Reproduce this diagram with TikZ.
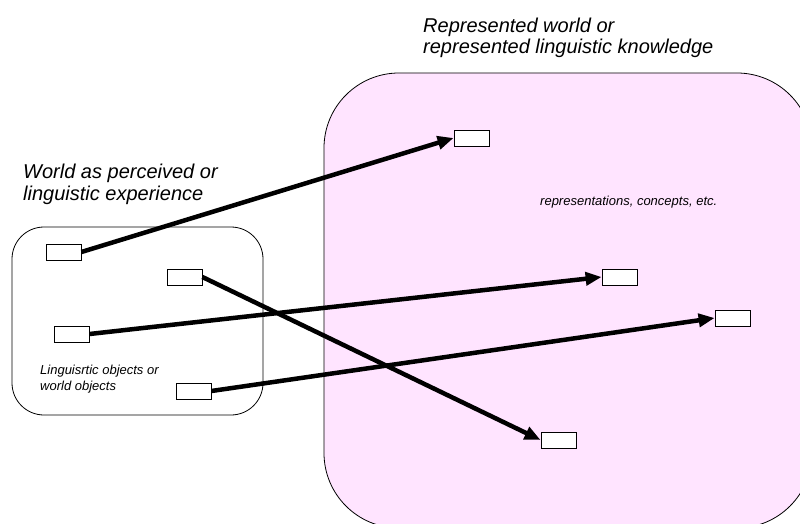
\documentclass[tikz,border=0pt]{standalone}
\usepackage{fontspec}
\setmainfont{Liberation Sans}
\usetikzlibrary{arrows.meta}
\definecolor{pinkfill}{RGB}{255,228,255}
\tikzset{
  objbox/.style={draw=black, fill=white, line width=0.8pt, minimum width=35pt, minimum height=16pt, inner sep=0pt},
  bigarrow/.style={line width=4.5pt, -{Triangle[length=16pt,width=13pt]}},
  bigtext/.style={font=\fontsize{20}{21.5}\selectfont\itshape, align=left, inner sep=0pt, anchor=base west},
  smalltext/.style={font=\fontsize{13}{16.5}\selectfont\itshape, align=left, inner sep=0pt, anchor=base west}
}
\begin{document}
\begin{tikzpicture}[x=1pt,y=-1pt]
\useasboundingbox (0,0) rectangle (800,524);
% containers
\draw[fill=pinkfill, line width=0.8pt, rounded corners=75pt] (324,73) rectangle (812,528);
\draw[fill=white, line width=0.8pt, rounded corners=32pt] (12,227) rectangle (263,415);
% texts (base anchor = baseline of last line)
\node[bigtext] (t1) at (423,54) {Represented world or\\represented linguistic knowledge};
\node[bigtext] (t2) at (23,200) {World as perceived or\\linguistic experience};
\node[smalltext] (t3) at (540,205) {representations, concepts, etc.};
\node[smalltext] (t4) at (40,390.5) {Linguisrtic objects or\\world objects};
% object boxes
\node[objbox] (a) at (63.5,252) {};
\node[objbox] (b) at (184.5,277) {};
\node[objbox] (c) at (71.5,334) {};
\node[objbox] (d) at (193.5,391) {};
\node[objbox] (e) at (471.5,138) {};
\node[objbox] (f) at (619.5,277) {};
\node[objbox] (g) at (732.5,318) {};
\node[objbox] (h) at (558.5,440) {};
% arrows
\draw[bigarrow] (a.east) -- (e.west);
\draw[bigarrow] (c.east) -- (f.west);
\draw[bigarrow] (d.east) -- (g.west);
\draw[bigarrow] (b.east) -- (h.west);
\end{tikzpicture}
\end{document}
